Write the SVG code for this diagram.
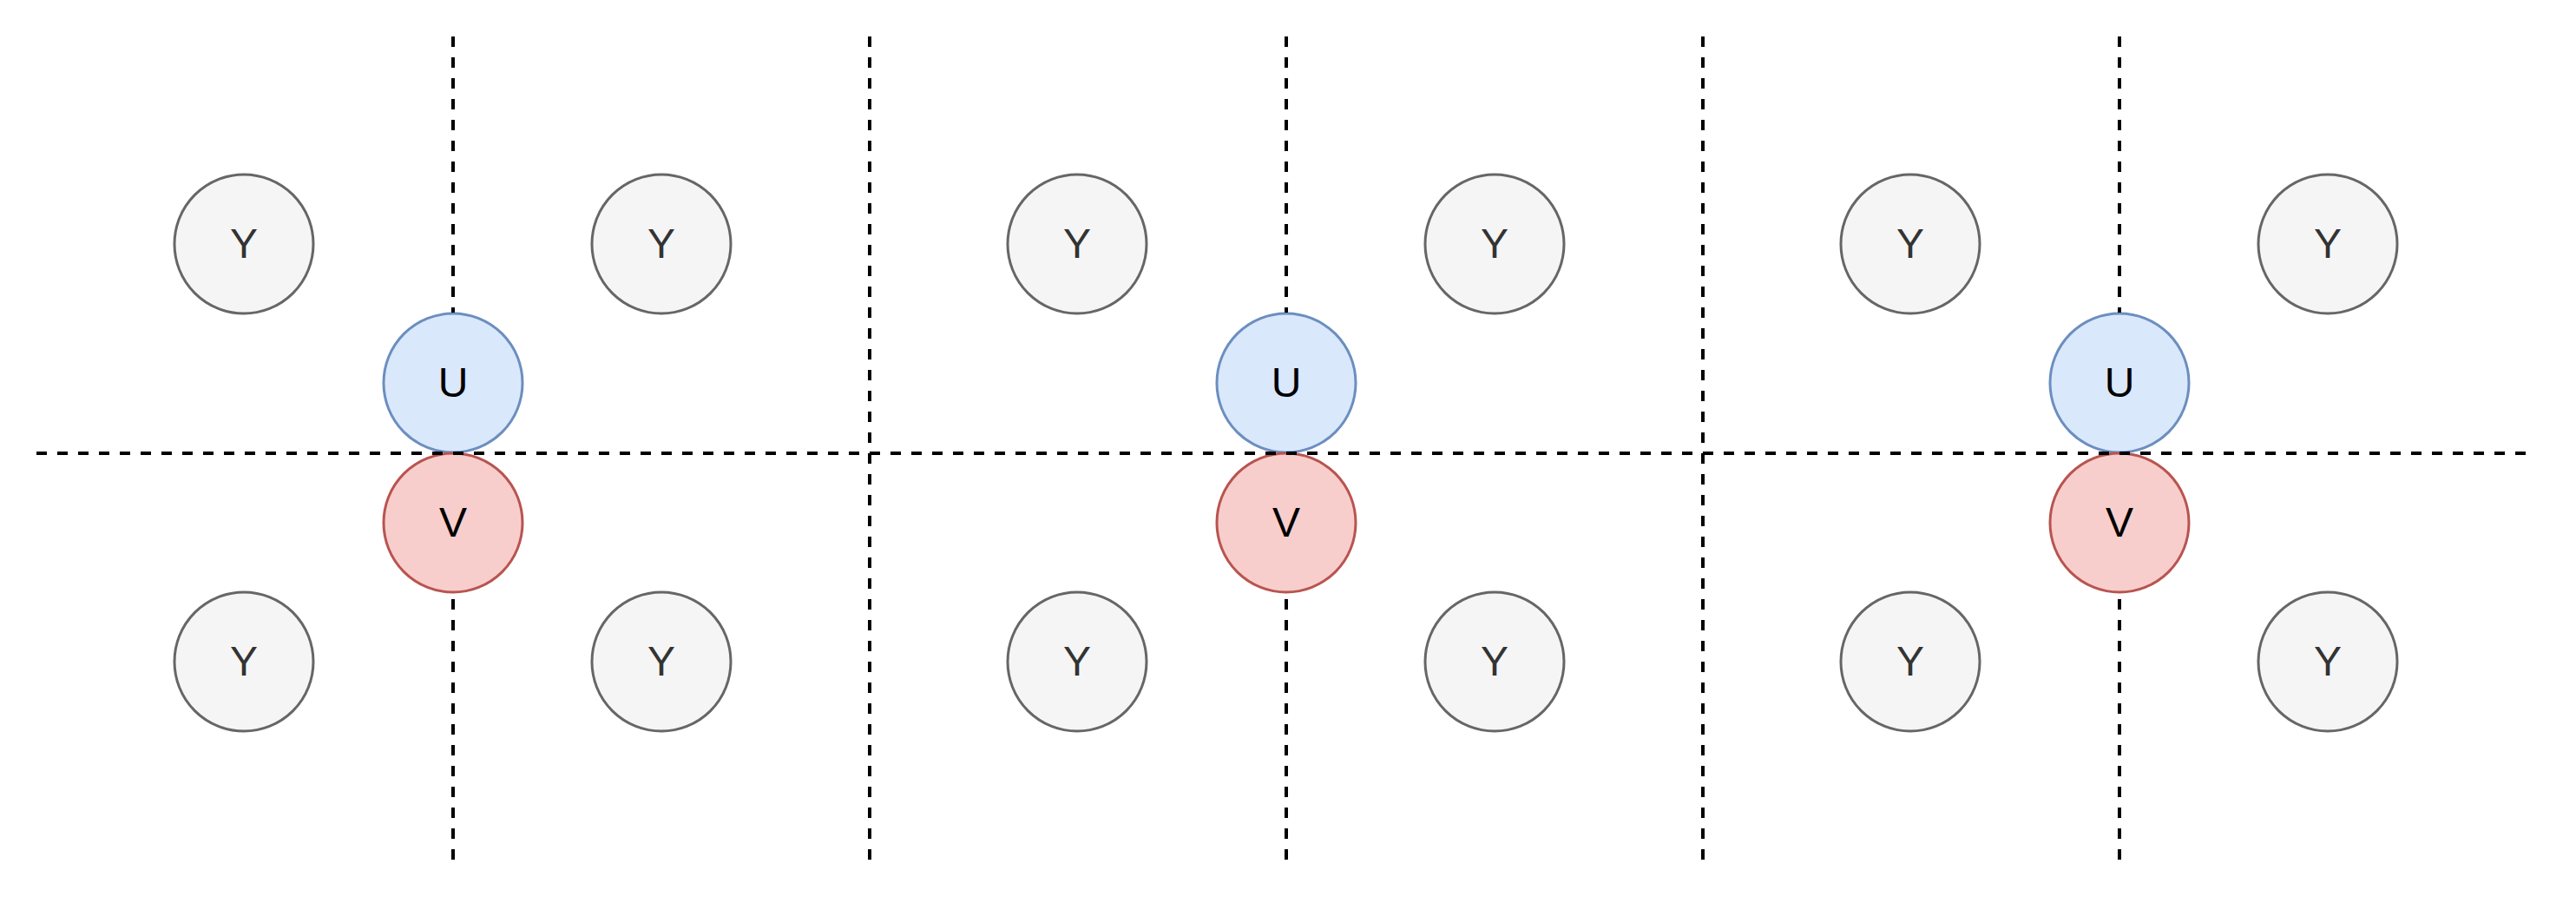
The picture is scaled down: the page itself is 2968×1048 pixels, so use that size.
<svg xmlns="http://www.w3.org/2000/svg" width="2968" height="1048" viewBox="0 0 2968 1048">
<style>
.y{fill:#f5f5f5;stroke:#666666;stroke-width:3}
.u{fill:#dae8fc;stroke:#6c8ebf;stroke-width:3}
.v{fill:#f8cecc;stroke:#b85450;stroke-width:3}
text{font-family:"Liberation Sans",Arial,Helvetica,sans-serif;font-size:48px;text-anchor:middle}
.ty{fill:#333333}
.tk{fill:#000000}
.d{stroke:#000000;stroke-width:4;stroke-dasharray:12 12;fill:none}
</style>
<rect width="2968" height="1048" fill="#ffffff"/>
<g id="panel1">
<g id="p1-y1"><circle class="y" cx="281" cy="281" r="80"/><text class="ty" x="281" y="297">Y</text></g>
<g id="p1-y2"><circle class="y" cx="762" cy="281" r="80"/><text class="ty" x="762" y="297">Y</text></g>
<g id="p1-y3"><circle class="y" cx="281" cy="762" r="80"/><text class="ty" x="281" y="778">Y</text></g>
<g id="p1-y4"><circle class="y" cx="762" cy="762" r="80"/><text class="ty" x="762" y="778">Y</text></g>
<g id="p1-u"><circle class="u" cx="522" cy="441" r="80"/><text class="tk" x="522" y="457">U</text></g>
<g id="p1-v"><circle class="v" cx="522" cy="602" r="80"/><text class="tk" x="522" y="618">V</text></g>
</g>
<g id="panel2">
<g id="p2-y1"><circle class="y" cx="1241" cy="281" r="80"/><text class="ty" x="1241" y="297">Y</text></g>
<g id="p2-y2"><circle class="y" cx="1722" cy="281" r="80"/><text class="ty" x="1722" y="297">Y</text></g>
<g id="p2-y3"><circle class="y" cx="1241" cy="762" r="80"/><text class="ty" x="1241" y="778">Y</text></g>
<g id="p2-y4"><circle class="y" cx="1722" cy="762" r="80"/><text class="ty" x="1722" y="778">Y</text></g>
<g id="p2-u"><circle class="u" cx="1482" cy="441" r="80"/><text class="tk" x="1482" y="457">U</text></g>
<g id="p2-v"><circle class="v" cx="1482" cy="602" r="80"/><text class="tk" x="1482" y="618">V</text></g>
</g>
<g id="panel3">
<g id="p3-y1"><circle class="y" cx="2201" cy="281" r="80"/><text class="ty" x="2201" y="297">Y</text></g>
<g id="p3-y2"><circle class="y" cx="2682" cy="281" r="80"/><text class="ty" x="2682" y="297">Y</text></g>
<g id="p3-y3"><circle class="y" cx="2201" cy="762" r="80"/><text class="ty" x="2201" y="778">Y</text></g>
<g id="p3-y4"><circle class="y" cx="2682" cy="762" r="80"/><text class="ty" x="2682" y="778">Y</text></g>
<g id="p3-u"><circle class="u" cx="2442" cy="441" r="80"/><text class="tk" x="2442" y="457">U</text></g>
<g id="p3-v"><circle class="v" cx="2442" cy="602" r="80"/><text class="tk" x="2442" y="618">V</text></g>
</g>
<g id="connectors">
<line class="d" x1="42" y1="522" x2="2920" y2="522"/>
<line class="d" x1="1002" y1="42" x2="1002" y2="1000"/>
<line class="d" x1="1962" y1="42" x2="1962" y2="1000"/>
<line class="d" x1="522" y1="42" x2="522" y2="360"/>
<line class="d" x1="522" y1="690" x2="522" y2="1000"/>
<line class="d" x1="1482" y1="42" x2="1482" y2="360"/>
<line class="d" x1="1482" y1="690" x2="1482" y2="1000"/>
<line class="d" x1="2442" y1="42" x2="2442" y2="360"/>
<line class="d" x1="2442" y1="690" x2="2442" y2="1000"/>
</g>
</svg>
